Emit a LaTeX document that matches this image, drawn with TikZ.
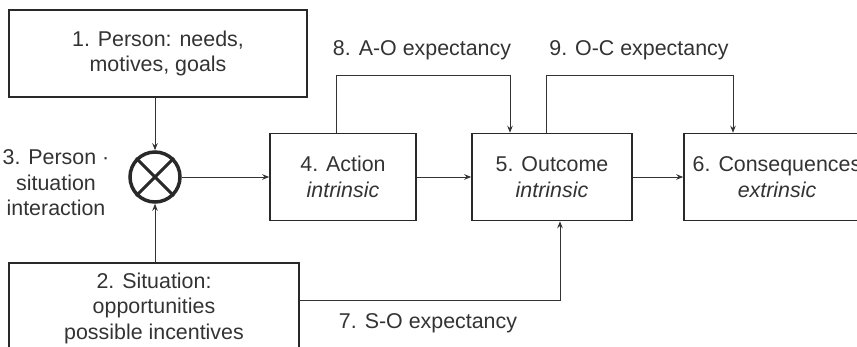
\documentclass[tikz,border=0pt]{standalone}
\usepackage{fontspec}
\setmainfont{Liberation Sans}
\usetikzlibrary{arrows.meta}
\definecolor{ink}{HTML}{333333}
\begin{document}
\begin{tikzpicture}[x=1pt,y=-1pt,
  font=\fontsize{21.4}{25.5}\selectfont,
  box/.style={draw=ink!80!black, line width=1.5pt, inner sep=0pt, align=center, text=ink},
  conn/.style={draw=ink, line width=1pt, -{Stealth[length=7pt,width=5.5pt]}},
  lbl/.style={text=ink, align=center, inner sep=0pt}]
\useasboundingbox (0,0) rectangle (857,346);
\clip (0,0) rectangle (857,346);
\node[box, minimum width=298pt, minimum height=87pt] (person) at (158,53.5) {1. Person: needs,\\motives, goals};
\node[box, minimum width=290pt, minimum height=90pt] (situ) at (154,308) {2. Situation:\\opportunities\\possible incentives};
\node[draw=ink!80!black, line width=3.5pt, circle, inner sep=0pt, minimum size=50pt] (circ) at (155,177) {};
\draw[ink!80!black, line width=3pt] (circ.north west) -- (circ.south east);
\draw[ink!80!black, line width=3pt] (circ.north east) -- (circ.south west);
\node[lbl] (psi) at (56,183) {3. Person \textperiodcentered\\situation\\interaction};
\node[box, minimum width=146pt, minimum height=87pt] (act) at (343,177) {4. Action\\\textit{intrinsic}};
\node[box, minimum width=160pt, minimum height=87pt] (out) at (552,177) {5. Outcome\\\textit{intrinsic}};
\node[box, minimum width=186pt, minimum height=87pt] (cons) at (777,177) {6. Consequences\\\textit{extrinsic}};
\node[lbl] (ao) at (422,50) {8. A-O expectancy};
\node[lbl] (oc) at (639,50) {9. O-C expectancy};
\node[lbl] (so) at (428,323) {7. S-O expectancy};
% main chain
\draw[conn] (circ |- person.south) -- (circ);
\draw[conn] (circ |- situ.north) -- (circ);
\draw[conn] (circ) -- (act);
\draw[conn] (act) -- (out);
\draw[conn] (out) -- (cons);
% expectancies
\draw[conn] ([xshift=-7pt]act.north) -- ++(0,-57) -| ([xshift=-42pt]out.north);
\draw[conn] ([xshift=-6pt]out.north) -- ++(0,-57) -| ([xshift=-44pt]cons.north);
\draw[conn] ([yshift=8pt]situ.east) -| ([xshift=8pt]out.south);
\end{tikzpicture}
\end{document}
